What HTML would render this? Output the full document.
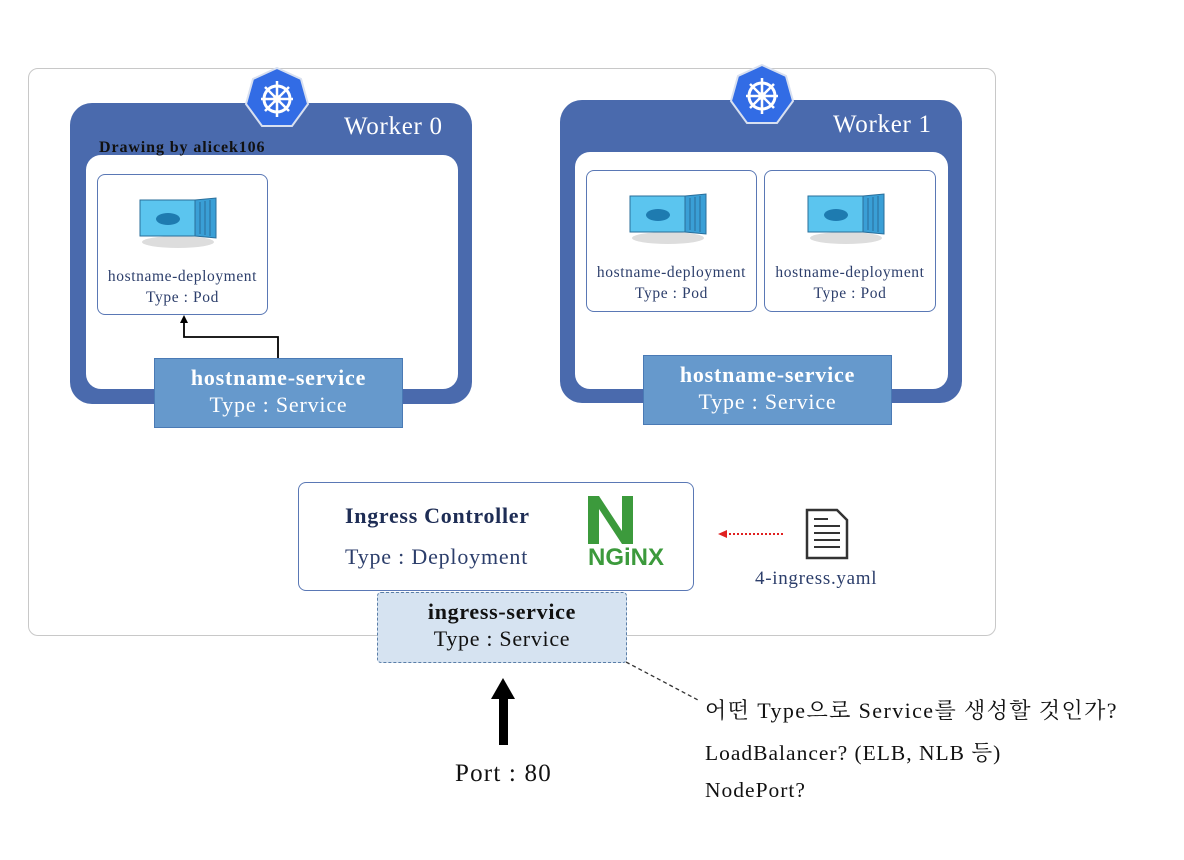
<!DOCTYPE html>
<html><head><meta charset="utf-8"><style>
body{margin:0;width:1184px;height:860px;background:#fff;position:relative;overflow:hidden;font-family:"Liberation Serif","Noto Serif CJK SC",serif}
.a{position:absolute;box-sizing:border-box}
.t{position:absolute;white-space:nowrap}
</style></head><body>
<div class="a" style="left:28px;top:68px;width:968px;height:568px;border:1.5px solid #c8c8c8;border-radius:10px"></div>

<!-- Worker 0 -->
<div class="a" style="left:70px;top:103px;width:402px;height:301px;background:#4a6aad;border-radius:22px"></div>
<div class="a" style="left:86px;top:155px;width:372px;height:234px;background:#fff;border-radius:15px"></div>
<div class="t" style="left:344px;top:113px;color:#fff;font-size:25px;letter-spacing:0.7px">Worker 0</div>
<div class="t" style="left:99px;top:139px;font-size:16px;font-weight:bold;color:#111;letter-spacing:0.9px">Drawing by alicek106</div>
<div class="a" style="left:97px;top:174px;width:171px;height:141px;border:1.5px solid #5a78b5;border-radius:8px;background:#fff"></div>
<div class="t" style="left:97px;top:266px;width:171px;text-align:center;font-size:15.5px;line-height:21px;color:#2c3e6b;letter-spacing:0.6px">hostname-deployment<br>Type : Pod</div>
<svg class="a" style="left:138px;top:196px" width="82" height="54" viewBox="0 0 82 54"><ellipse cx="40" cy="46" rx="36" ry="6" fill="#ddd"/><rect x="2" y="4" width="55" height="36" fill="#5bc5ef" stroke="#2a6e9a"/><polygon points="57,4 78,2 78,42 57,40" fill="#3a9fd6" stroke="#2a6e9a"/><path d="M62 6v32M67 5v34M72 4v36" stroke="#2a6e9a"/><ellipse cx="30" cy="23" rx="12" ry="6" fill="#1e7bb0"/></svg>
<svg class="a" style="left:0;top:0" width="1184" height="860">
<path d="M278 358V337H184V322" fill="none" stroke="#000" stroke-width="1.8"/><polygon points="184,315 180,323 188,323" fill="#000"/>
<path d="M772 355V333M672 333H852M672 333V320M852 333V320" fill="none" stroke="#000" stroke-width="1.8"/><polygon points="672,313 668,321 676,321" fill="#000"/><polygon points="852,313 848,321 856,321" fill="#000"/>
<line x1="626" y1="662" x2="698" y2="700" stroke="#333" stroke-width="1.3" stroke-dasharray="4,3"/>
<line x1="783" y1="534" x2="726" y2="534" stroke="#e02020" stroke-width="2" stroke-dasharray="2,2"/><polygon points="718,534 727,530 727,538" fill="#e02020"/>
<rect x="499" y="695" width="9" height="50" fill="#000"/><polygon points="503,678 491,699 515,699" fill="#000"/>
<path d="M807 510h30l10 10v38h-40z" fill="#fff" stroke="#333" stroke-width="2.5"/><path d="M814 526h26M814 533h26M814 540h26M814 547h26M814 519h14" stroke="#333" stroke-width="2"/>
</svg>
<div class="a" style="left:154px;top:358px;width:249px;height:70px;background:#6699cc;border:1.5px solid #4a7ab5"></div>
<div class="t" style="left:154px;top:364px;width:249px;text-align:center;color:#fff;font-size:22px;line-height:27px;letter-spacing:0.8px"><b>hostname-service</b><br>Type : Service</div>

<!-- Worker 1 -->
<div class="a" style="left:560px;top:100px;width:402px;height:303px;background:#4a6aad;border-radius:22px"></div>
<div class="a" style="left:575px;top:152px;width:373px;height:237px;background:#fff;border-radius:15px"></div>
<div class="t" style="left:833px;top:111px;color:#fff;font-size:25px;letter-spacing:0.7px">Worker 1</div>
<div class="a" style="left:586px;top:170px;width:171px;height:142px;border:1.5px solid #5a78b5;border-radius:8px;background:#fff"></div>
<div class="a" style="left:764px;top:170px;width:172px;height:142px;border:1.5px solid #5a78b5;border-radius:8px;background:#fff"></div>
<div class="t" style="left:586px;top:262px;width:171px;text-align:center;font-size:15.5px;line-height:21px;color:#2c3e6b;letter-spacing:0.6px">hostname-deployment<br>Type : Pod</div>
<div class="t" style="left:764px;top:262px;width:172px;text-align:center;font-size:15.5px;line-height:21px;color:#2c3e6b;letter-spacing:0.6px">hostname-deployment<br>Type : Pod</div>
<svg class="a" style="left:628px;top:192px" width="82" height="54" viewBox="0 0 82 54"><ellipse cx="40" cy="46" rx="36" ry="6" fill="#ddd"/><rect x="2" y="4" width="55" height="36" fill="#5bc5ef" stroke="#2a6e9a"/><polygon points="57,4 78,2 78,42 57,40" fill="#3a9fd6" stroke="#2a6e9a"/><path d="M62 6v32M67 5v34M72 4v36" stroke="#2a6e9a"/><ellipse cx="30" cy="23" rx="12" ry="6" fill="#1e7bb0"/></svg>
<svg class="a" style="left:806px;top:192px" width="82" height="54" viewBox="0 0 82 54"><ellipse cx="40" cy="46" rx="36" ry="6" fill="#ddd"/><rect x="2" y="4" width="55" height="36" fill="#5bc5ef" stroke="#2a6e9a"/><polygon points="57,4 78,2 78,42 57,40" fill="#3a9fd6" stroke="#2a6e9a"/><path d="M62 6v32M67 5v34M72 4v36" stroke="#2a6e9a"/><ellipse cx="30" cy="23" rx="12" ry="6" fill="#1e7bb0"/></svg>
<div class="a" style="left:643px;top:355px;width:249px;height:70px;background:#6699cc;border:1.5px solid #4a7ab5"></div>
<div class="t" style="left:643px;top:361px;width:249px;text-align:center;color:#fff;font-size:22px;line-height:27px;letter-spacing:0.8px"><b>hostname-service</b><br>Type : Service</div>

<!-- k8s icons -->
<svg class="a" style="left:243px;top:66px" width="68" height="64" viewBox="0 0 68 64"><polygon points="34,2 58,13 65,38 49,60 19,60 3,38 10,13" fill="#326ce5" stroke="#d8e0f0" stroke-width="2"/><circle cx="34" cy="33" r="13" fill="none" stroke="#fff" stroke-width="3"/><circle cx="34" cy="33" r="4" fill="#fff"/><path d="M34 15v36M18 33h32M22 21l24 24M46 21L22 45" stroke="#fff" stroke-width="2.5"/></svg>
<svg class="a" style="left:728px;top:63px" width="68" height="64" viewBox="0 0 68 64"><polygon points="34,2 58,13 65,38 49,60 19,60 3,38 10,13" fill="#326ce5" stroke="#d8e0f0" stroke-width="2"/><circle cx="34" cy="33" r="13" fill="none" stroke="#fff" stroke-width="3"/><circle cx="34" cy="33" r="4" fill="#fff"/><path d="M34 15v36M18 33h32M22 21l24 24M46 21L22 45" stroke="#fff" stroke-width="2.5"/></svg>

<!-- Ingress -->
<div class="a" style="left:298px;top:482px;width:396px;height:109px;border:1.5px solid #5a78b5;border-radius:8px;background:#fff"></div>
<div class="t" style="left:345px;top:503px;font-size:22px;font-weight:bold;color:#1e2d55;letter-spacing:0.7px">Ingress Controller</div>
<div class="t" style="left:345px;top:544px;font-size:22px;color:#2c3e6b;letter-spacing:0.8px">Type : Deployment</div>
<svg class="a" style="left:576px;top:492px" width="102" height="78"><path d="M12 4h11l23 35V4h11v48H46L23 17v35H12z" fill="#3c9a3c"/><text x="50" y="73" text-anchor="middle" font-family="Liberation Sans,sans-serif" font-weight="bold" font-size="24" fill="#3c9a3c">NGiNX</text></svg>
<div class="t" style="left:755px;top:568px;font-size:19px;color:#2c3e6b;letter-spacing:0.7px">4-ingress.yaml</div>
<div class="a" style="left:377px;top:592px;width:250px;height:71px;background:#d6e3f1;border:1.5px dashed #5b7fa8;border-radius:4px"></div>
<div class="t" style="left:377px;top:598px;width:250px;text-align:center;font-size:22px;line-height:27px;color:#111;letter-spacing:0.7px"><b>ingress-service</b><br>Type : Service</div>

<div class="t" style="left:455px;top:760px;font-size:25px;color:#111;letter-spacing:1.2px">Port : 80</div>
<div class="t" style="left:705px;top:694px;font-size:22px;color:#111;letter-spacing:1.4px">어떤 Type으로 Service를 생성할 것인가?</div>
<div class="t" style="left:705px;top:736px;font-size:21.5px;color:#111;letter-spacing:1px">LoadBalancer? (ELB, NLB 등)</div>
<div class="t" style="left:705px;top:778px;font-size:21.5px;color:#111;letter-spacing:1px">NodePort?</div>
</body></html>
